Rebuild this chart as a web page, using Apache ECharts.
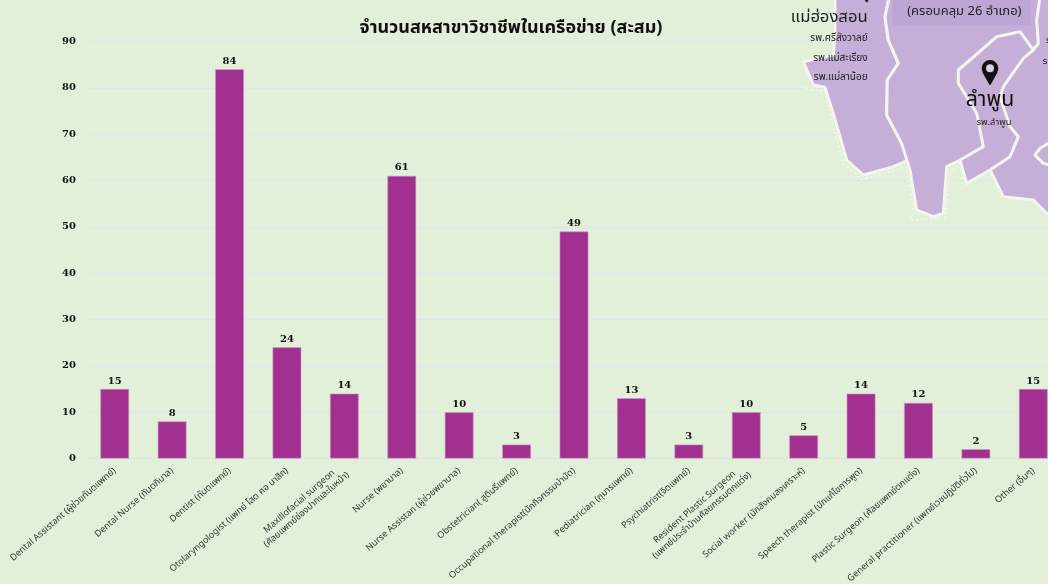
<!DOCTYPE html>
<html><head><meta charset="utf-8">
<style>html,body{margin:0;padding:0;background:#e2efd9;overflow:hidden}#c{width:1048px;height:584px}</style>
<script src="https://cdn.jsdelivr.net/npm/echarts@6/dist/echarts.min.js"></script>
</head><body><div id="c"></div>
<script>
const titleText = 'จำนวนสหสาขาวิชาชีพในเครือข่าย (สะสม)';
const categories = [
 'Dental Assistant (ผู้ช่วยทันตแพทย์)','Dental Nurse (ทันตภิบาล)','Dentist (ทันตแพทย์)',
 'Otolaryngologist (แพทย์ โสต ศอ นาสิก)','Maxillofacial surgeon\n(ศัลยแพทย์ช่องปากและใบหน้า)','Nurse (พยาบาล)',
 'Nurse Assistan (ผู้ช่วยพยาบาล)','Obstetrician( สูตินรีแพทย์)','Occupational therapist(นักกิจกรรมบำบัด)',
 'Pediatrician (กุมารแพทย์)','Psychiatrist(จิตแพทย์)','Resident Plastic Surgeon\n(แพทย์ประจำบ้านศัลยกรรมตกแต่ง)',
 'Social worker (นักสังคมสงเคราะห์)','Speech therapist (นักแก้ไขการพูด)','Plastic Surgeon (ศัลยแพทย์ตกแต่ง)',
 'General practitioner (แพทย์เวชปฏิบัติทั่วไป)','Other (อื่นๆ)'];
const values = [15,8,84,24,14,61,10,3,49,13,3,10,5,14,12,2,15];
const numFont = '"DejaVu Serif"';
const thai = '"Noto Sans","Noto Sans Thai","DejaVu Sans",sans-serif';
const P='#c5aed8', W='#f4f6ee';
function poly(pts,fill){return {type:'polygon',shape:{points:pts},style:{fill:fill||P,stroke:W,lineWidth:9,lineJoin:'round'}};}
function wline(pts){return {type:'polyline',shape:{points:pts},style:{fill:null,stroke:W,lineWidth:9,lineJoin:'round'}};}
function speck(pts){return {type:'polyline',shape:{points:pts},style:{fill:null,stroke:W,lineWidth:5,lineDash:[6,8]}};}
function txt(x,y,t,size,align,color){return {type:'text',x,y,style:{text:t,font:size+'px '+thai,fill:color||'#222',align:align||'right',verticalAlign:'middle'}};}
function pin(x,y,s){return {type:'group',x,y,scaleX:s,scaleY:s,children:[
 {type:'circle',shape:{cx:0,cy:25,r:25},style:{fill:'#111'}},
 {type:'polygon',shape:{points:[[-23,36],[23,36],[2,74],[-2,74]]},style:{fill:'#111'}},
 {type:'circle',shape:{cx:0,cy:25,r:12},style:{fill:'#d9cfe6'}}]};}
const mapChildren=[
 poly([[195,-10],[358,-10],[345,50],[355,120],[385,190],[352,240],[350,345],[395,430],[415,480],[370,500],[280,525],[230,480],[190,340],[165,262],[130,255],[100,185],[190,165],[195,100]]),
 poly([[358,-10],[860,-10],[860,670],[790,600],[700,590],[660,510],[590,550],[570,480],[530,500],[520,640],[490,650],[440,630],[420,510],[395,430],[350,345],[352,240],[385,190],[355,120],[345,50]]),
 poly([[565,210],[600,180],[680,110],[750,95],[790,150],[760,175],[700,260],[690,290],[720,380],[745,410],[720,470],[660,510],[590,550],[570,480],[640,440],[620,340],[565,250]]),
 wline([[810,-10],[800,60],[805,130],[790,150]]),
 wline([[860,415],[810,445],[795,465],[820,490],[860,500]]),
 speck([[95,262],[165,275],[180,345],[220,490],[275,538],[375,512],[408,500],[430,630],[420,660],[525,655],[540,510],[575,495],[578,560]]),
 {type:'rect',shape:{x:368,y:-5,width:416,height:82,r:4},style:{fill:'#bda6d3'}},
 pin(660,180,1.0), pin(290,-60,.9),
 txt(293,53,'แม่ฮ่องสอน',50),
 txt(293,115,'รพ.ศรีสังวาลย์',30),
 txt(293,173,'รพ.แม่สะเรียง',30),
 txt(293,231,'รพ.แม่ลาน้อย',30),
 txt(660,300,'ลำพูน',64,'center','#111'),
 txt(672,366,'รพ.ลำพูน',28,'center'),
 txt(583,33,'(ครอบคลุม 26 อำเภอ)',39,'center'),
 txt(818,185,'ร',28,'left'),
 txt(828,122,'ร',28,'left')
];
function lift(list){list.forEach(e=>{e.z=100;if(e.children)lift(e.children);});return list;}
const chart=echarts.init(document.getElementById('c'),null,{renderer:'canvas'});
chart.setOption({
 backgroundColor:'#e2efd9',animation:false,
 graphic:[{type:'group',x:770,y:0,scaleX:1/3,scaleY:1/3,z:100,silent:true,children:lift(mapChildren)}],
 title:{text:titleText,left:511,top:19,padding:0,textAlign:'center',textStyle:{fontFamily:thai,fontSize:18,fontWeight:'bold',color:'#111'}},
 grid:{left:86,width:976,top:41.5,height:417,outerBoundsMode:'none'},
 xAxis:{type:'category',data:categories,axisTick:{show:false},axisLine:{lineStyle:{color:'#dbe4e6'}},
  axisLabel:{interval:0,rotate:41,margin:11,
   formatter:v=>v.split('\n').map(s=>'{a|'+s+'}').join('\n'),
   rich:{a:{fontFamily:thai,fontSize:9.1,color:'#333',lineHeight:11,align:'center'}}}},
 yAxis:{type:'value',min:0,max:90,interval:10,axisLine:{show:false},axisTick:{show:false},
  splitLine:{lineStyle:{color:'#dde5ea',width:1}},
  axisLabel:{fontFamily:numFont,fontSize:10,fontWeight:'bold',color:'#111',margin:10}},
 series:[{type:'bar',data:values,barWidth:'50%',itemStyle:{color:'#a13091',borderColor:'#c79ac0',borderWidth:.6},
  label:{show:true,position:'top',distance:3,fontFamily:numFont,fontSize:10,fontWeight:'bold',color:'#111'}}]
});
</script></body></html>
